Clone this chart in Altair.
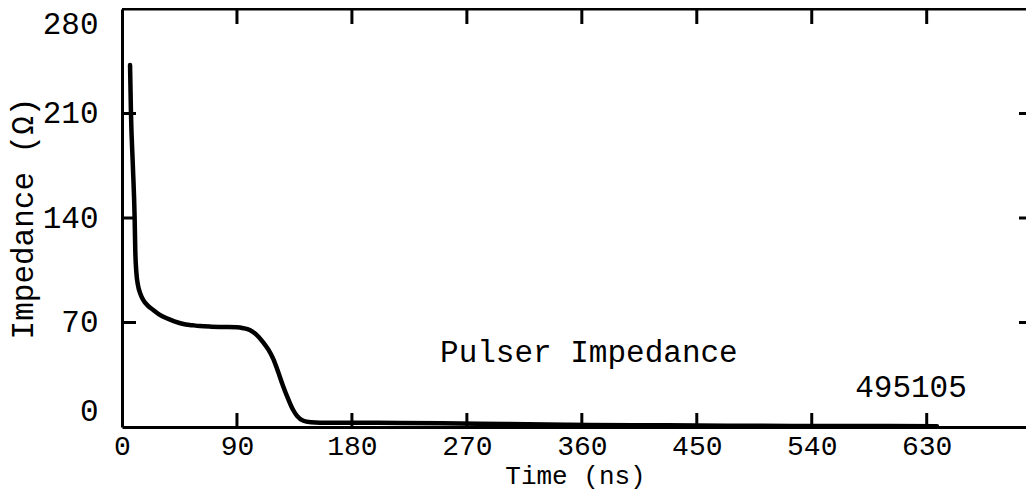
import altair as alt
import pandas as pd

# Curve
time_ns = [6.3, 7.0, 8.5, 9.9, 10.4, 11.2, 12.5, 14.5, 16.7, 20.0, 24.5, 29.0, 35.0, 41.0, 48.0,
           55.0, 61.0, 70.0, 80.0, 89.8, 95.0, 100.0, 105.0, 110.7, 114.5, 118.5, 122.0, 126.3,
           130.0, 134.0, 137.0, 142.0, 148.0, 155.0, 170.0, 200.0, 250.0, 300.0, 350.0, 400.0,
           450.0, 500.0, 550.0, 600.0, 638.0]
impedance_ohm = [242.5, 211.0, 175.0, 140.0, 118.0, 104.0, 95.0, 89.0, 85.0, 81.5, 78.4, 75.5,
                 72.8, 70.8, 69.0, 68.2, 67.6, 67.2, 67.0, 66.8, 66.2, 65.0, 62.0, 56.5, 52.0,
                 45.5, 37.5, 27.0, 19.0, 11.4, 7.5, 4.2, 3.2, 2.9, 2.9, 2.8, 2.5, 2.0, 1.5, 1.2,
                 1.0, 0.8, 0.7, 0.6, 0.5]

x_tick_values = [0, 90, 180, 270, 360, 450, 540, 630]
y_tick_values = [0, 70, 140, 210, 280]
x_inner_ticks = [90, 180, 270, 360, 450, 540, 630]
y_inner_ticks = [70, 140, 210]

label_texts = ["Pulser Impedance", "495105"]
label_x = [249, 574]
label_y = [43.5, 20.1]

FONT = "Liberation Mono"
FS = 31
W, H = 904, 418
X_MAX = 714 * W / 912

curve = pd.DataFrame({"t": time_ns, "z": impedance_ohm})
xt = pd.DataFrame({"t": x_inner_ticks})
yt = pd.DataFrame({"z": y_inner_ticks})
labels = pd.DataFrame({"t": label_x, "z": label_y, "txt": label_texts})
frame_top = pd.DataFrame({"t": [0]})

xscale = alt.Scale(domain=[0, X_MAX], nice=False, zero=False)
yscale = alt.Scale(domain=[0, 280], nice=False)

xaxis = alt.Axis(values=x_tick_values, ticks=False, tickSize=0, domain=True, domainColor="black",
                 domainWidth=3, grid=False,
                 labelFont=FONT, labelFontSize=28, labelColor="black", labelFlush=False,
                 labelBaseline="alphabetic", labelPadding=27,
                 title="Time (ns)", titleFont=FONT, titleFontSize=26, titleFontWeight="normal",
                 titleColor="black", titleBaseline="alphabetic", titleY=56, titleX=453,
                 titleAlign="center")
yaxis = alt.Axis(values=y_tick_values, ticks=False, tickSize=0, domain=True, domainColor="black",
                 domainWidth=3, grid=False,
                 labelFont=FONT, labelFontSize=FS, labelColor="black", labelFlush=True,
                 labelPadding=24,
                 title="Impedance (Ω)", titleFont=FONT, titleFontSize=FS, titleFontWeight="normal",
                 titleColor="black", titleX=-99, titleY=H / 2, titleAngle=-90,
                 titleAlign="center", titleBaseline="middle")

line = alt.Chart(curve).mark_line(color="black", strokeWidth=4.5, strokeCap="round",
                                  strokeJoin="round", interpolate="monotone").encode(
    x=alt.X("t:Q", scale=xscale, axis=xaxis),
    y=alt.Y("z:Q", scale=yscale, axis=yaxis),
)

top_line = alt.Chart(frame_top).mark_rule(color="black", strokeWidth=3).encode(
    x=alt.value(0), x2=alt.value(W), y=alt.value(0))
bottom_ticks = alt.Chart(xt).mark_rule(color="black", strokeWidth=3).encode(
    x=alt.X("t:Q", scale=xscale), y=alt.value(H), y2=alt.value(H - 14))
top_ticks = alt.Chart(xt).mark_rule(color="black", strokeWidth=3).encode(
    x=alt.X("t:Q", scale=xscale), y=alt.value(0), y2=alt.value(15))
left_ticks = alt.Chart(yt).mark_rule(color="black", strokeWidth=3).encode(
    y=alt.Y("z:Q", scale=yscale), x=alt.value(0), x2=alt.value(14))
right_ticks = alt.Chart(yt).mark_rule(color="black", strokeWidth=3).encode(
    y=alt.Y("z:Q", scale=yscale), x=alt.value(W), x2=alt.value(W - 7))

text = alt.Chart(labels).mark_text(font=FONT, fontSize=FS, color="black", align="left",
                                   baseline="alphabetic").encode(
    x=alt.X("t:Q", scale=xscale), y=alt.Y("z:Q", scale=yscale), text="txt:N")

chart = alt.layer(line, top_line, bottom_ticks, top_ticks, left_ticks, right_ticks, text).properties(
    width=W, height=H,
    autosize=alt.AutoSizeParams(type="none"),
    padding={"left": 114, "top": 1, "right": 0, "bottom": 64},
).configure(background="white").configure_view(stroke=None)

chart.save("out.html", embed_options={"renderer": "svg", "actions": False})
